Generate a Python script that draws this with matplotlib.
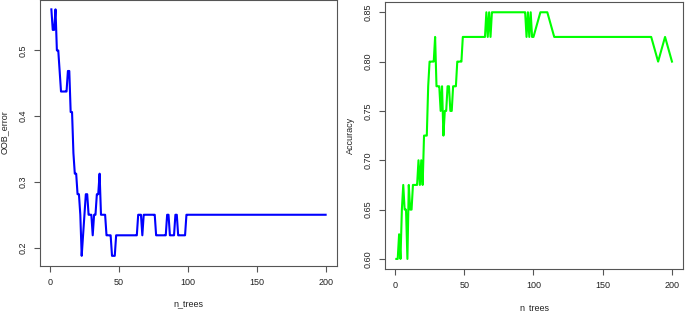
import matplotlib
matplotlib.use("Agg")
import matplotlib.pyplot as plt

plt.rcParams['font.family'] = ['Liberation Sans', 'DejaVu Sans']

# x grid: 1..100 then every 5 trees up to 200
n_trees = list(range(1, 101)) + list(range(105, 201, 5))

# OOB error (left panel), n = 1..100
oob_first = [
    0.5625, 0.53125, 0.53125, 0.5625, 0.5, 0.5, 0.46875, 0.4375, 0.4375, 0.4375,   # 1-10
    0.4375, 0.4375, 0.46875, 0.46875, 0.40625, 0.40625, 0.34375, 0.3125, 0.3125, 0.28125,  # 11-20
    0.28125, 0.25, 0.1875, 0.21875, 0.25, 0.28125, 0.28125, 0.25, 0.25, 0.25,  # 21-30
    0.21875, 0.25, 0.25, 0.28125, 0.28125, 0.3125, 0.25, 0.25, 0.25, 0.25,  # 31-40
    0.21875, 0.21875, 0.21875, 0.21875, 0.1875, 0.1875, 0.1875, 0.21875, 0.21875, 0.21875,  # 41-50
    0.21875, 0.21875, 0.21875, 0.21875, 0.21875, 0.21875, 0.21875, 0.21875, 0.21875, 0.21875,  # 51-60
    0.21875, 0.21875, 0.21875, 0.25, 0.25, 0.25, 0.21875, 0.25, 0.25, 0.25,  # 61-70
    0.25, 0.25, 0.25, 0.25, 0.25, 0.25, 0.21875, 0.21875, 0.21875, 0.21875,  # 71-80
    0.21875, 0.21875, 0.21875, 0.21875, 0.25, 0.25, 0.21875, 0.21875, 0.21875, 0.21875,  # 81-90
    0.25, 0.25, 0.21875, 0.21875, 0.21875, 0.21875, 0.21875, 0.21875, 0.25, 0.25,  # 91-100
]
oob_tail = [0.25] * 20  # 105..200
oob_error = oob_first + oob_tail

# Accuracy (right panel), n = 1..100
acc_first = [
    0.60, 0.60, 0.625, 0.60, 0.65, 0.675, 0.65, 0.65, 0.60, 0.675,  # 1-10
    0.65, 0.65, 0.675, 0.675, 0.675, 0.675, 0.70, 0.675, 0.70, 0.675,  # 11-20
    0.725, 0.725, 0.725, 0.775, 0.80, 0.80, 0.80, 0.80, 0.825, 0.775,  # 21-30
    0.775, 0.775, 0.75, 0.775, 0.725, 0.75, 0.75, 0.775, 0.775, 0.75,  # 31-40
    0.75, 0.775, 0.775, 0.775, 0.80, 0.80, 0.80, 0.80, 0.825, 0.825,  # 41-50
    0.825, 0.825, 0.825, 0.825, 0.825, 0.825, 0.825, 0.825, 0.825, 0.825,  # 51-60
    0.825, 0.825, 0.825, 0.825, 0.825, 0.85, 0.825, 0.85, 0.825, 0.85,  # 61-70
    0.85, 0.85, 0.85, 0.85, 0.85, 0.85, 0.85, 0.85, 0.85, 0.85,  # 71-80
    0.85, 0.85, 0.85, 0.85, 0.85, 0.85, 0.85, 0.85, 0.85, 0.85,  # 81-90
    0.85, 0.85, 0.85, 0.85, 0.825, 0.85, 0.825, 0.85, 0.825, 0.825,  # 91-100
]
# 105, 110, ..., 200
acc_tail = [0.85, 0.85] + [0.825] * 15 + [0.80, 0.825, 0.80]
accuracy = acc_first + acc_tail

oob_yticks = [0.2, 0.3, 0.4, 0.5]
acc_yticks = [0.60, 0.65, 0.70, 0.75, 0.80, 0.85]
x_ticks = [0, 50, 100, 150, 200]

W, H = 685, 312
fig = plt.figure(figsize=(W / 100, H / 100), dpi=100)


def add_ax(x0, y0, x1, y1):
    return fig.add_axes([x0 / W, 1 - y1 / H, (x1 - x0) / W, (y1 - y0) / H])


def r_pad(lo, hi):
    d = (hi - lo) * 0.04
    return lo - d, hi + d


def style(ax, yticks, yfmt):
    for s in ax.spines.values():
        s.set_color('#555555')
        s.set_linewidth(0.8)
    ax.set_xticks(x_ticks)
    ax.set_yticks(yticks)
    ax.set_yticklabels([yfmt.format(v) for v in yticks], rotation=90, va='center')
    ax.tick_params(direction='out', length=4, width=0.8, color='#555555',
                   labelsize=6.5, labelcolor='#222222', pad=5)


ax1 = add_ax(40.4, -0.5, 336.6, 265.7)
ax1.plot(n_trees, oob_error, color='#0000FF', lw=1.5)
ax1.set_xlim(*r_pad(1, 200))
ax1.set_ylim(*r_pad(min(oob_error), max(oob_error)))
style(ax1, oob_yticks, '{:.1f}')
ax1.set_xlabel('n_trees', fontsize=6.5, color='#222222', labelpad=9)
ax1.set_ylabel('OOB_error', fontsize=6.5, color='#222222', labelpad=7)

ax2 = add_ax(385.3, 2.4, 683, 268.8)
ax2.plot(n_trees, accuracy, color='#00FF00', lw=1.5)
ax2.set_xlim(*r_pad(1, 200))
ax2.set_ylim(*r_pad(min(accuracy), max(accuracy)))
style(ax2, acc_yticks, '{:.2f}')
ax2.set_xlabel('n_trees', fontsize=6.5, color='#222222', labelpad=9)
ax2.set_ylabel('Accuracy', fontsize=6.5, color='#222222', labelpad=6)

fig.savefig('out.png', dpi=100)
